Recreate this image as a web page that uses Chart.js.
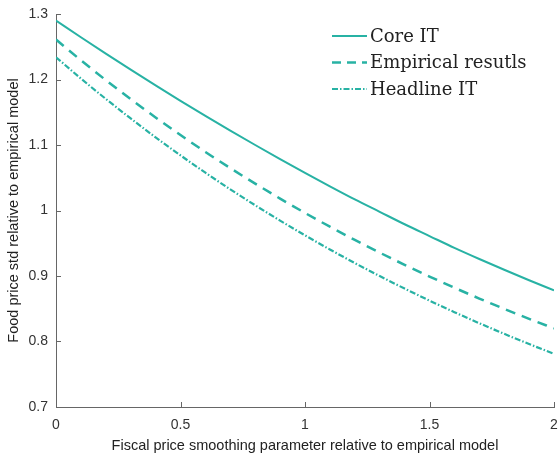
<!DOCTYPE html>
<html>
<head>
<meta charset="utf-8">
<script src="https://cdn.jsdelivr.net/npm/chart.js@4.4.1/dist/chart.umd.min.js"></script>
<style>
  html, body { margin: 0; padding: 0; background: #fff; }
  #wrap { width: 560px; height: 460px; }
</style>
</head>
<body>
<div id="wrap"><canvas id="foodChart"></canvas></div>
<script>
// x values (fiscal price smoothing parameter)
const xValues = [0, 0.1, 0.2, 0.3, 0.4, 0.5, 0.6, 0.7, 0.8, 0.9, 1.0,
                 1.1, 1.2, 1.3, 1.4, 1.5, 1.6, 1.7, 1.8, 1.9, 2.0];

const coreIT = [1.290, 1.2645, 1.2395, 1.215, 1.191, 1.1675, 1.1445, 1.122, 1.100, 1.0785, 1.0575,
                1.037, 1.017, 0.998, 0.979, 0.961, 0.943, 0.926, 0.9095, 0.8935, 0.878];
const empirical = [1.261, 1.2294, 1.1991, 1.170, 1.142, 1.1152, 1.0894, 1.0647, 1.041, 1.0182, 0.9963,
                   0.9753, 0.9551, 0.9357, 0.9171, 0.8992, 0.8821, 0.8656, 0.8498, 0.8346, 0.820];
const headlineIT = [1.234, 1.2015, 1.1704, 1.1405, 1.1117, 1.0842, 1.0577, 1.0323, 1.008, 0.9846, 0.9621,
                    0.9405, 0.9198, 0.8999, 0.8808, 0.8624, 0.8448, 0.8279, 0.8117, 0.7961, 0.7811];

const xTicks = [0, 0.5, 1, 1.5, 2];
const yTicks = [0.7, 0.8, 0.9, 1, 1.1, 1.2, 1.3];

const teal = '#28b2a4';
const axisColor = '#666666';
const sansFont = '"Liberation Sans", Arial, sans-serif';

function toPoints(ys) {
    return xValues.map((x, i) => ({ x: x, y: ys[i] }));
}

// MATLAB style inward tick marks
const innerTicks = {
    id: 'innerTicks',
    afterDraw(chart) {
        const ctx = chart.ctx;
        const xs = chart.scales.x, ys = chart.scales.y;
        const area = chart.chartArea;
        ctx.save();
        ctx.strokeStyle = axisColor;
        ctx.lineWidth = 1;
        ctx.beginPath();
        xTicks.forEach(v => {
            const px = Math.round(xs.getPixelForValue(v)) + 0.5;
            ctx.moveTo(px, area.bottom);
            ctx.lineTo(px, area.bottom - 5);
        });
        yTicks.forEach(v => {
            const py = Math.round(ys.getPixelForValue(v)) + 0.5;
            ctx.moveTo(area.left, py);
            ctx.lineTo(area.left + 5, py);
        });
        ctx.stroke();
        ctx.restore();
    }
};

// legend drawn inside the plot, top right, no box
const innerLegend = {
    id: 'innerLegend',
    afterDraw(chart) {
        const ctx = chart.ctx;
        const x0 = 332, y0 = 36, rowH = 26.5, lineLen = 35;
        ctx.save();
        ctx.font = '18px "DejaVu Serif", "Liberation Serif", serif';
        ctx.textBaseline = 'middle';
        chart.data.datasets.forEach((ds, i) => {
            const y = y0 + i * rowH;
            ctx.strokeStyle = ds.borderColor;
            ctx.lineWidth = ds.borderWidth;
            ctx.setLineDash(ds.legendDash || []);
            ctx.beginPath();
            ctx.moveTo(x0, y);
            ctx.lineTo(x0 + lineLen, y);
            ctx.stroke();
            ctx.setLineDash([]);
            ctx.fillStyle = '#222';
            ctx.fillText(ds.label, x0 + lineLen + 3, y + 1);
        });
        ctx.restore();
    }
};

const ctx = document.getElementById('foodChart').getContext('2d');
const foodChart = new Chart(ctx, {
    type: 'line',
    data: {
        datasets: [
            {
                label: 'Core IT',
                data: toPoints(coreIT),
                borderColor: teal,
                borderWidth: 2,
                legendDash: [],
                cubicInterpolationMode: 'monotone'
            },
            {
                label: 'Empirical resutls',
                data: toPoints(empirical),
                borderColor: teal,
                borderWidth: 2.5,
                borderDash: [10, 7],
                legendDash: [9, 6],
                cubicInterpolationMode: 'monotone'
            },
            {
                label: 'Headline IT',
                data: toPoints(headlineIT),
                borderColor: teal,
                borderWidth: 2.2,
                borderDash: [6, 2, 1.5, 2],
                legendDash: [6, 2, 1.5, 2],
                cubicInterpolationMode: 'monotone'
            }
        ]
    },
    options: {
        responsive: true,
        maintainAspectRatio: false,
        animation: false,
        layout: { padding: { top: 14, right: 6, left: 0, bottom: 0 } },
        elements: { point: { radius: 0 } },
        plugins: {
            legend: { display: false },
            tooltip: { enabled: false }
        },
        scales: {
            x: {
                type: 'linear',
                min: 0,
                max: 2,
                afterBuildTicks: axis => { axis.ticks = xTicks.map(v => ({ value: v })); },
                afterFit: axis => {
                    axis.height = 53;
                    axis.paddingLeft = 0;
                    axis.paddingRight = 0;
                },
                grid: { display: false, drawTicks: false },
                border: { display: true, color: axisColor, width: 1 },
                ticks: {
                    padding: 10,
                    color: '#333',
                    font: { family: sansFont, size: 14 },
                    maxRotation: 0,
                    callback: v => String(v)
                },
                title: {
                    display: true,
                    text: 'Fiscal price smoothing parameter relative to empirical model',
                    color: '#222',
                    font: { family: sansFont, size: 14.5 },
                    padding: { top: 3, bottom: 5 }
                }
            },
            y: {
                min: 0.7,
                max: 1.3,
                afterBuildTicks: axis => { axis.ticks = yTicks.map(v => ({ value: v })); },
                afterFit: axis => {
                    axis.width = 56;
                    axis.paddingTop = 0;
                    axis.paddingBottom = 0;
                },
                grid: { display: false, drawTicks: false },
                border: { display: true, color: axisColor, width: 1 },
                ticks: {
                    padding: 8,
                    color: '#333',
                    font: { family: sansFont, size: 14 },
                    callback: v => String(v)
                },
                title: {
                    display: true,
                    text: 'Food price std relative to empirical model',
                    color: '#222',
                    font: { family: sansFont, size: 14.5 },
                    padding: { top: 5, bottom: 4 }
                }
            }
        }
    },
    plugins: [innerTicks, innerLegend]
});
</script>
</body>
</html>
